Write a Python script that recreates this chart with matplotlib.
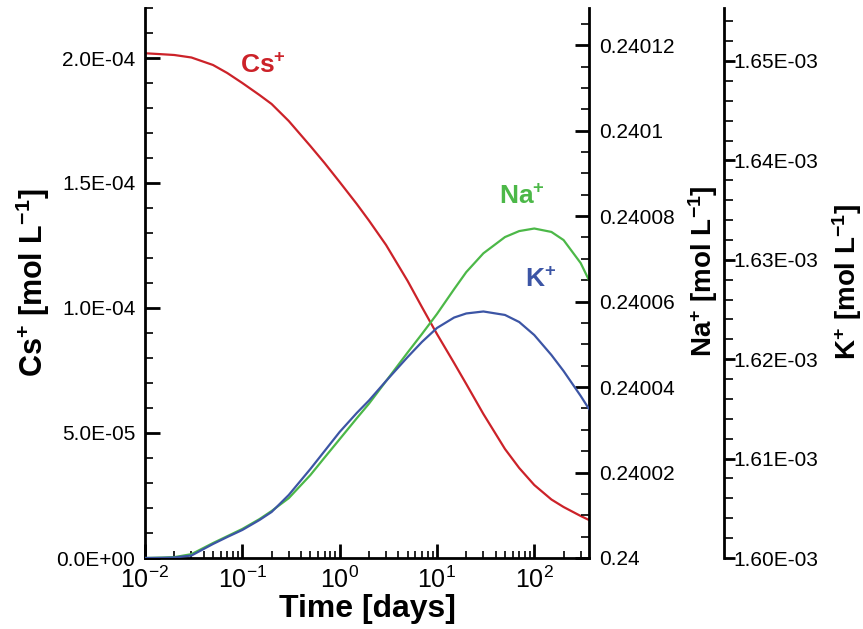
import matplotlib
matplotlib.use('Agg')
import matplotlib.pyplot as plt
from matplotlib.ticker import MultipleLocator, FuncFormatter, LogLocator, NullFormatter

plt.rcParams['font.family'] = 'Liberation Sans'
plt.rcParams['mathtext.fontset'] = 'custom'
plt.rcParams['mathtext.rm'] = 'Liberation Sans'
plt.rcParams['mathtext.bf'] = 'Liberation Sans:bold'
plt.rcParams['mathtext.it'] = 'Liberation Sans:italic'

# time [days]
t = [0.01, 0.015, 0.02, 0.03, 0.05, 0.07, 0.1, 0.15, 0.2, 0.3, 0.5, 0.7,
     1, 1.5, 2, 3, 5, 7, 10, 15, 20, 30, 50, 70, 100, 150, 200, 300, 365]
# Cs+ [mol/L] (left axis)
cs = [2.019e-4, 2.015e-4, 2.012e-4, 2.002e-4, 1.972e-4, 1.940e-4, 1.900e-4,
      1.852e-4, 1.816e-4, 1.748e-4, 1.648e-4, 1.580e-4, 1.504e-4, 1.416e-4,
      1.350e-4, 1.252e-4, 1.108e-4, 1.004e-4, 8.96e-5, 7.80e-5, 6.96e-5,
      5.76e-5, 4.36e-5, 3.60e-5, 2.92e-5, 2.34e-5, 2.04e-5, 1.68e-5, 1.52e-5]
# Na+ [mol/L] (first right axis)
na = [0.2400000, 0.2400001, 0.2400002, 0.2400009, 0.2400035, 0.2400051,
      0.2400068, 0.2400091, 0.2400110, 0.2400140, 0.2400194, 0.2400235,
      0.2400278, 0.2400327, 0.2400361, 0.2400414, 0.2400481, 0.2400524,
      0.2400571, 0.2400629, 0.2400669, 0.2400713, 0.2400751, 0.2400765,
      0.2400771, 0.2400763, 0.2400744, 0.2400690, 0.2400650]
# K+ [mol/L] (second right axis)
k = [1.60000e-3, 1.60002e-3, 1.60005e-3, 1.60025e-3, 1.60141e-3, 1.60211e-3,
     1.60282e-3, 1.60382e-3, 1.60463e-3, 1.60634e-3, 1.60895e-3, 1.61076e-3,
     1.61268e-3, 1.61459e-3, 1.61584e-3, 1.61781e-3, 1.62022e-3, 1.62173e-3,
     1.62314e-3, 1.62419e-3, 1.62460e-3, 1.62480e-3, 1.62445e-3, 1.62374e-3,
     1.62243e-3, 1.62042e-3, 1.61881e-3, 1.61630e-3, 1.61499e-3]

red = '#CC2229'
green = '#4CB848'
blue = '#3C55A5'

W, H = 863, 629
fig = plt.figure(figsize=(W / 100, H / 100), dpi=100)
ax = fig.add_axes([145 / W, 71 / H, 444 / W, 550 / H])
ax_na = ax.twinx()
ax_k = ax.twinx()

ax.plot(t, cs, color=red, lw=1.6)
ax_na.plot(t, na, color=green, lw=1.6)
ax_k.plot(t, k, color=blue, lw=1.6)

ax.set_xscale('log')
ax.set_xlim(0.01, 365)
ax.set_ylim(0, 2.2e-4)
ax_na.set_ylim(0.24, 0.2401287)
ax_k.set_ylim(1.6e-3, 1.65533e-3)

# spines
for a in (ax, ax_na, ax_k):
    a.spines['top'].set_visible(False)
    for s in a.spines.values():
        s.set_linewidth(2)
ax.spines['right'].set_visible(False)
for a in (ax_na, ax_k):
    a.spines['left'].set_visible(False)
    a.spines['bottom'].set_visible(False)
ax_k.spines['right'].set_position(('axes', 579 / 444))

# main axes ticks
ax.yaxis.set_major_locator(MultipleLocator(5e-5))
ax.yaxis.set_minor_locator(MultipleLocator(1e-5))
ax.yaxis.set_major_formatter(FuncFormatter(lambda v, p: '%.1E' % v))
ax.xaxis.set_major_locator(LogLocator(base=10, numticks=10))
ax.xaxis.set_minor_locator(LogLocator(base=10, subs=range(2, 10), numticks=20))
ax.xaxis.set_minor_formatter(NullFormatter())
ax.tick_params(axis='y', which='major', direction='in', length=11, width=2, labelsize=15, pad=7)
ax.tick_params(axis='y', which='minor', direction='in', length=6, width=1.2)
ax.tick_params(axis='x', which='major', direction='in', length=10, width=2, labelsize=18, pad=6)
ax.tick_params(axis='x', which='minor', direction='in', length=5, width=1.2)

# Na axis
ax_na.yaxis.set_major_locator(MultipleLocator(2e-5))
ax_na.yaxis.set_minor_locator(MultipleLocator(5e-6))
ax_na.yaxis.set_major_formatter(FuncFormatter(lambda v, p: ('%.5f' % v).rstrip('0')))
ax_na.tick_params(axis='y', which='major', direction='in', length=10, width=2, labelsize=15, pad=7)
ax_na.tick_params(axis='y', which='minor', direction='in', length=5.5, width=1.2)

# K axis
ax_k.yaxis.set_major_locator(MultipleLocator(1e-5))
ax_k.yaxis.set_minor_locator(MultipleLocator(2e-6))
ax_k.yaxis.set_major_formatter(FuncFormatter(lambda v, p: '%.2E' % v))
ax_k.tick_params(axis='y', which='major', direction='out', length=8, width=2, labelsize=15, pad=-1)
ax_k.tick_params(axis='y', which='minor', direction='out', length=6.5, width=1.2)

# axis titles
ax.set_xlabel('Time [days]', fontsize=23, fontweight='bold', labelpad=1)
fig.text(33 / W, 1 - 283 / H, r'Cs$^{\mathbf{+}}$ [mol L$^{\mathbf{-1}}$]',
         rotation=90, ha='center', va='center', fontsize=22, fontweight='bold')
fig.text(703 / W, 1 - 271 / H, r'Na$^{\mathbf{+}}$ [mol L$^{\mathbf{-1}}$]',
         rotation=90, ha='center', va='center', fontsize=20, fontweight='bold')
fig.text(847 / W, 1 - 282 / H, r'K$^{\mathbf{+}}$ [mol L$^{\mathbf{-1}}$]',
         rotation=90, ha='center', va='center', fontsize=20, fontweight='bold')

# curve labels
ax.text(0.266, 0.895, r'Cs$^{\mathbf{+}}$', transform=ax.transAxes, color=red,
        fontsize=19, fontweight='bold', ha='center', va='center')
ax.text(0.849, 0.656, r'Na$^{\mathbf{+}}$', transform=ax.transAxes, color=green,
        fontsize=19, fontweight='bold', ha='center', va='center')
ax.text(0.890, 0.505, r'K$^{\mathbf{+}}$', transform=ax.transAxes, color=blue,
        fontsize=19, fontweight='bold', ha='center', va='center')

fig.savefig('out.png', dpi=100, facecolor='white')
